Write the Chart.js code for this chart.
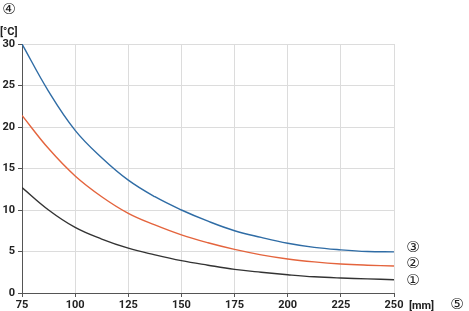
<!DOCTYPE html>
<html>
<head>
<meta charset="utf-8">
<script src="https://cdn.jsdelivr.net/npm/chart.js@4"></script>
<style>
  html, body { margin: 0; padding: 0; background: #fff; }
  #wrap { position: relative; width: 469px; height: 311px; }
</style>
</head>
<body>
<div id="wrap"><canvas id="myChart" width="469" height="311"></canvas></div>
<script>
// x positions [mm]
const espesores = [75, 87.5, 100, 112.5, 125, 137.5, 150, 162.5, 175, 187.5, 200, 212.5, 225, 237.5, 250]
// curva 1 (negra)
const serie1 = [12.7, 10.0, 7.9, 6.5, 5.4, 4.6, 3.9, 3.35, 2.85, 2.5, 2.2, 1.95, 1.8, 1.7, 1.6]
// curva 2 (naranja)
const serie2 = [21.4, 17.4, 14.1, 11.6, 9.6, 8.2, 7.0, 6.05, 5.25, 4.6, 4.1, 3.75, 3.5, 3.35, 3.25]
// curva 3 (azul)
const serie3 = [30, 24.3, 19.6, 16.3, 13.6, 11.6, 10.0, 8.65, 7.5, 6.7, 6.0, 5.5, 5.2, 5.0, 4.95]
const etiquetasCurvas = ["\u2460", "\u2461", "\u2462"]

const fuente = "Roboto, 'DejaVu Sans', sans-serif"
const fuenteCirculo = "'DejaVu Sans', 'Noto Sans CJK JP', sans-serif"

function puntos(serie) {
    return serie.map((v, i) => ({ x: espesores[i], y: v }))
}

const textosExtra = {
    id: "textosExtra",
    afterDraw(chart) {
        const ctx = chart.ctx
        ctx.save()
        ctx.fillStyle = "#222"
        ctx.textBaseline = "middle"
        ctx.textAlign = "center"
        ctx.font = "15px " + fuenteCirculo
        ctx.fillText("\u2463", 9, 10)
        ctx.fillText("\u2464", 457, 305)
        ctx.fillText(etiquetasCurvas[2], 413, 248)
        ctx.fillText(etiquetasCurvas[1], 413, 264)
        ctx.fillText(etiquetasCurvas[0], 413, 281)
        ctx.textAlign = "left"
        ctx.font = "bold 11px " + fuente
        ctx.fillText("[\u00b0C]", 0, 32)
        ctx.fillText("[mm]", 409, 306)
        ctx.restore()
    }
}

const datasets = [
    { label: "1", data: puntos(serie1), borderColor: "#333333" },
    { label: "2", data: puntos(serie2), borderColor: "#e4643d" },
    { label: "3", data: puntos(serie3), borderColor: "#2f6ca5" }
].map(d => Object.assign(d, {
    borderWidth: 1.4,
    pointRadius: 0,
    fill: false,
    tension: 0.4
}))

const config = {
    type: "line",
    data: { datasets },
    options: {
        responsive: false,
        animation: false,
        layout: { padding: { left: 0, right: 75, top: 44, bottom: 0 } },
        plugins: { legend: { display: false }, tooltip: { enabled: false } },
        scales: {
            x: {
                type: "linear",
                min: 75,
                max: 250,
                afterFit(scale) { scale.height = 18 },
                ticks: { stepSize: 25, color: "#222", padding: 2, maxRotation: 0,
                    font: { family: fuente, size: 11, weight: "bold" } },
                grid: { color: "#dcdcdc", lineWidth: 1, tickLength: 4, tickColor: "#555" },
                border: { color: "#555", width: 1 }
            },
            y: {
                min: 0,
                max: 30,
                afterFit(scale) { scale.width = 22 },
                ticks: { stepSize: 5, color: "#222", padding: 3,
                    font: { family: fuente, size: 11, weight: "bold" } },
                grid: { color: "#dcdcdc", lineWidth: 1, tickLength: 4, tickColor: "#555" },
                border: { color: "#555", width: 1 }
            }
        }
    },
    plugins: [textosExtra]
}

new Chart(document.getElementById("myChart").getContext("2d"), config)
</script>
</body>
</html>
